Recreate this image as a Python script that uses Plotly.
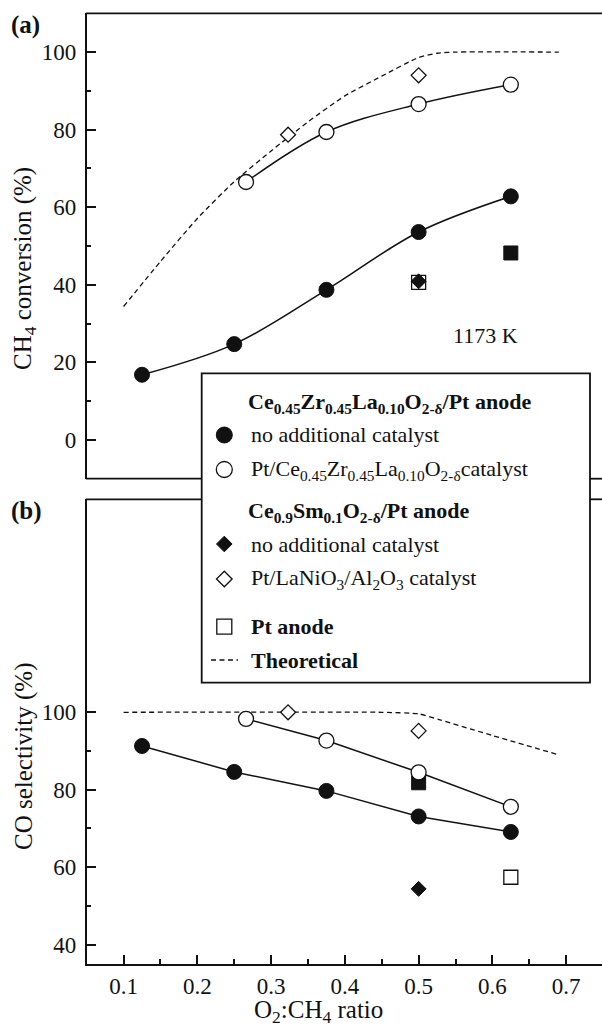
import plotly.graph_objects as go

# ---- data -----------------------------------------------------------------
# O2:CH4 feed ratios
ratio_czl = [0.125, 0.25, 0.375, 0.5, 0.625]
ratio_czl_cat = [0.266, 0.375, 0.5, 0.625]
ratio_sdc_cat = [0.323, 0.5]
ratio_sdc = [0.5]

# (a) CH4 conversion (%)
conv_czl = [16.8, 24.7, 38.7, 53.6, 62.8]
conv_czl_cat = [66.5, 79.4, 86.6, 91.6]
conv_sdc_cat = [78.7, 94.0]
conv_sdc = [40.9]
conv_pt_ratio = [0.5]
conv_pt = [40.6]
conv_pt_filled_ratio = [0.625]
conv_pt_filled = [48.2]

# (b) CO selectivity (%)
sel_czl = [91.3, 84.6, 79.7, 73.1, 69.1]
sel_czl_cat = [98.3, 92.7, 84.5, 75.6]
sel_sdc_cat = [100.0, 95.2]
sel_sdc = [54.4]
sel_pt_ratio = [0.625]
sel_pt = [57.4]
sel_pt_filled_ratio = [0.5]
sel_pt_filled = [81.8]

# theoretical (equilibrium) curves
theo_conv_ratio = [0.10, 0.15, 0.20, 0.25, 0.30, 0.35, 0.40, 0.45, 0.50, 0.525, 0.55, 0.69]
theo_conv = [34.4, 46.0, 57.1, 66.6, 74.5, 82.0, 88.7, 93.8, 98.6, 99.7, 100.0, 100.0]
theo_sel_ratio = [0.10, 0.45, 0.50, 0.53, 0.60, 0.69]
theo_sel = [100.0, 100.0, 99.6, 98.0, 94.0, 89.0]

x_ticks = [0.1, 0.2, 0.3, 0.4, 0.5, 0.6, 0.7]
x_minor = [0.15, 0.25, 0.35, 0.45, 0.55, 0.65]
conv_ticks = [0, 20, 40, 60, 80, 100]
conv_minor = [10, 30, 50, 70, 90]
sel_ticks = [40, 60, 80, 100]
sel_minor = [50, 70, 90]

# ---- layout helpers ------------------------------------------------------
W, H = 602, 1027
FONT = "Liberation Serif"
BLACK = "#111111"
CLEAR = "rgba(0,0,0,0)"


def px(x):
    return x / W


def py(y):
    return 1 - y / H


LEFT = 86.7
A_TOP, A_BOT = 13.3, 478.7
B_TOP, B_BOT = 499.3, 964.0
LG_L, LG_R, LG_T, LG_B = 201.7, 590.0, 373.3, 682.7
AXW = 1.8

fig = go.Figure()


def filled(sym, size):
    return dict(symbol=sym, size=size, color=BLACK, line=dict(color=BLACK, width=1))


def hollow(sym, size):
    return dict(symbol=sym, size=size, color="white", line=dict(color=BLACK, width=1.3))


CIRC = 15
DIAM = 11.5
SQR = 14
line_solid = dict(color=BLACK, width=1.5)
line_dash = dict(color=BLACK, width=1.3, dash="5px,3.5px")

# ---- panel (a) -----------------------------------------------------------
fig.add_trace(go.Scatter(x=theo_conv_ratio, y=theo_conv, mode="lines",
                         line=dict(**line_dash, shape="spline", smoothing=0.6),
                         xaxis="x", yaxis="y"))
fig.add_trace(go.Scatter(x=conv_pt_ratio, y=conv_pt, mode="markers",
                         marker=hollow("square", SQR), xaxis="x", yaxis="y"))
fig.add_trace(go.Scatter(x=conv_pt_filled_ratio, y=conv_pt_filled, mode="markers",
                         marker=filled("square", SQR), xaxis="x", yaxis="y"))
fig.add_trace(go.Scatter(x=ratio_sdc, y=conv_sdc, mode="markers",
                         marker=filled("diamond", DIAM), xaxis="x", yaxis="y"))
fig.add_trace(go.Scatter(x=ratio_sdc_cat, y=conv_sdc_cat, mode="markers",
                         marker=hollow("diamond", DIAM), xaxis="x", yaxis="y"))
fig.add_trace(go.Scatter(x=ratio_czl, y=conv_czl, mode="lines+markers",
                         line=dict(**line_solid, shape="spline", smoothing=1.0),
                         marker=filled("circle", CIRC), xaxis="x", yaxis="y"))
fig.add_trace(go.Scatter(x=ratio_czl_cat, y=conv_czl_cat, mode="lines+markers",
                         line=dict(**line_solid, shape="spline", smoothing=1.0),
                         marker=hollow("circle", CIRC), xaxis="x", yaxis="y"))

# ---- panel (b) -----------------------------------------------------------
fig.add_trace(go.Scatter(x=theo_sel_ratio, y=theo_sel, mode="lines",
                         line=dict(**line_dash, shape="spline", smoothing=0.5),
                         xaxis="x2", yaxis="y2"))
fig.add_trace(go.Scatter(x=sel_pt_ratio, y=sel_pt, mode="markers",
                         marker=hollow("square", SQR), xaxis="x2", yaxis="y2"))
fig.add_trace(go.Scatter(x=sel_pt_filled_ratio, y=sel_pt_filled, mode="markers",
                         marker=filled("square", SQR), xaxis="x2", yaxis="y2"))
fig.add_trace(go.Scatter(x=ratio_sdc, y=sel_sdc, mode="markers",
                         marker=filled("diamond", DIAM), xaxis="x2", yaxis="y2"))
fig.add_trace(go.Scatter(x=ratio_sdc_cat, y=sel_sdc_cat, mode="markers",
                         marker=hollow("diamond", DIAM), xaxis="x2", yaxis="y2"))
fig.add_trace(go.Scatter(x=ratio_czl, y=sel_czl, mode="lines+markers",
                         line=line_solid, marker=filled("circle", CIRC),
                         xaxis="x2", yaxis="y2"))
fig.add_trace(go.Scatter(x=ratio_czl_cat, y=sel_czl_cat, mode="lines+markers",
                         line=line_solid, marker=hollow("circle", CIRC),
                         xaxis="x2", yaxis="y2"))

# ---- legend keys (drawn on a pixel-space overlay axis) -------------------
KEY_X = 224.3
legend_rows = [
    ("header", 403.3, "<b>Ce<sub>0.45</sub>Zr<sub>0.45</sub>La<sub>0.10</sub>O<sub>2-δ</sub>/Pt anode</b>", None),
    ("entry", 435.0, "no additional catalyst", filled("circle", 16)),
    ("entry", 469.5, "Pt/Ce<sub>0.45</sub>Zr<sub>0.45</sub>La<sub>0.10</sub>O<sub>2-δ</sub>catalyst", hollow("circle", 16)),
    ("header", 511.7, "<b>Ce<sub>0.9</sub>Sm<sub>0.1</sub>O<sub>2-δ</sub>/Pt anode</b>", None),
    ("entry", 544.0, "no additional catalyst", filled("diamond", 12)),
    ("entry", 579.0, "Pt/LaNiO<sub>3</sub>/Al<sub>2</sub>O<sub>3</sub> catalyst", hollow("diamond", 12)),
    ("entry", 626.7, "<b>Pt anode</b>", hollow("square", 15)),
    ("dash", 660.0, "<b>Theoretical</b>", None),
]

annotations = []
for kind, yrow, text, mk in legend_rows:
    if kind == "header":
        tx = 245.7
    else:
        tx = 248.8
    if mk is not None:
        fig.add_trace(go.Scatter(x=[KEY_X], y=[yrow], mode="markers", marker=mk,
                                 xaxis="x3", yaxis="y3"))
    if kind == "dash":
        fig.add_trace(go.Scatter(x=[211, 238], y=[yrow, yrow], mode="lines",
                                 line=dict(color=BLACK, width=1.3, dash="5px,3.5px"),
                                 xaxis="x3", yaxis="y3"))
    annotations.append(dict(x=px(tx), y=py(yrow), xref="paper", yref="paper",
                            text=text, showarrow=False, xanchor="left",
                            yanchor="middle", font=dict(size=22, color=BLACK)))

# panel labels, axis titles, temperature note
annotations += [
    dict(x=px(9), y=py(25), text="<b>(a)</b>", font=dict(size=25)),
    dict(x=px(9), y=py(511), text="<b>(b)</b>", font=dict(size=25)),
]
for a in annotations[-2:]:
    a.update(xref="paper", yref="paper", showarrow=False, xanchor="left", yanchor="middle")

annotations += [
    dict(x=px(24), y=py(269), xref="paper", yref="paper", showarrow=False,
         text="CH<sub>4</sub> conversion (%)", textangle=-90,
         xanchor="center", yanchor="middle", font=dict(size=25)),
    dict(x=px(24), y=py(757), xref="paper", yref="paper", showarrow=False,
         text="CO selectivity (%)", textangle=-90,
         xanchor="center", yanchor="middle", font=dict(size=25)),
    dict(x=px(318), y=py(1011), xref="paper", yref="paper", showarrow=False,
         text="O<sub>2</sub>:CH<sub>4</sub> ratio",
         xanchor="center", yanchor="middle", font=dict(size=25)),
    dict(x=0.59, y=27, xref="x", yref="y", showarrow=False, text="1173 K",
         xanchor="center", yanchor="middle", font=dict(size=22)),
]

# frame lines interrupted by the legend box
shapes = []


def hline(x0, x1, y):
    shapes.append(dict(type="line", xref="paper", yref="paper",
                       x0=px(x0), x1=px(x1), y0=py(y), y1=py(y),
                       line=dict(color=BLACK, width=AXW)))


hline(LEFT - AXW / 2, W + 2, A_TOP)
hline(LEFT - AXW / 2, LG_L, A_BOT)
hline(LG_R, W + 2, A_BOT)
hline(LEFT - AXW / 2, LG_L, B_TOP)
hline(LG_R, W + 2, B_TOP)
shapes.append(dict(type="rect", xref="paper", yref="paper",
                   x0=px(LG_L), x1=px(LG_R), y0=py(LG_B), y1=py(LG_T),
                   line=dict(color=BLACK, width=AXW)))

XRANGE = [0.05, 0.7486]
common_y = dict(showgrid=False, zeroline=False, showline=True, linecolor=BLACK,
                linewidth=AXW, ticks="inside", ticklen=9, tickwidth=AXW,
                tickcolor=BLACK, tickfont=dict(size=23, color=BLACK),
                ticklabelstandoff=4)

fig.update_layout(
    width=W, height=H, autosize=False,
    margin=dict(l=0, r=0, t=0, b=0),
    paper_bgcolor="white", plot_bgcolor=CLEAR,
    showlegend=False,
    font=dict(family=FONT, color=BLACK),
    xaxis=dict(domain=[px(LEFT), 1], range=XRANGE, anchor="y",
               showline=False, showticklabels=False, ticks="",
               showgrid=False, zeroline=False, fixedrange=True),
    yaxis=dict(domain=[py(A_BOT), py(A_TOP)], range=[-10, 110], anchor="x",
               tickvals=conv_ticks,
               minor=dict(tickvals=conv_minor, ticks="inside", ticklen=4.5,
                          tickwidth=AXW, tickcolor=BLACK),
               **common_y),
    xaxis2=dict(domain=[px(LEFT), 1], range=XRANGE, anchor="y2",
                showgrid=False, zeroline=False, showline=True, linecolor=BLACK,
                linewidth=AXW, ticks="inside", ticklen=9, tickwidth=AXW,
                tickcolor=BLACK, tickvals=x_ticks,
                ticktext=[f"{v:.1f}" for v in x_ticks],
                minor=dict(tickvals=x_minor, ticks="inside", ticklen=5,
                           tickwidth=AXW, tickcolor=BLACK),
                tickfont=dict(size=23, color=BLACK), ticklabelstandoff=0),
    yaxis2=dict(domain=[py(B_BOT), py(B_TOP)], range=[35, 155], anchor="x2",
                tickvals=sel_ticks,
                minor=dict(tickvals=sel_minor, ticks="inside", ticklen=4.5,
                           tickwidth=AXW, tickcolor=BLACK),
                **common_y),
    xaxis3=dict(domain=[0, 1], range=[0, W], anchor="y3", visible=False,
                fixedrange=True),
    yaxis3=dict(domain=[0, 1], range=[H, 0], anchor="x3", visible=False,
                fixedrange=True),
    annotations=annotations,
    shapes=shapes,
)

fig.write_html("out.html")
